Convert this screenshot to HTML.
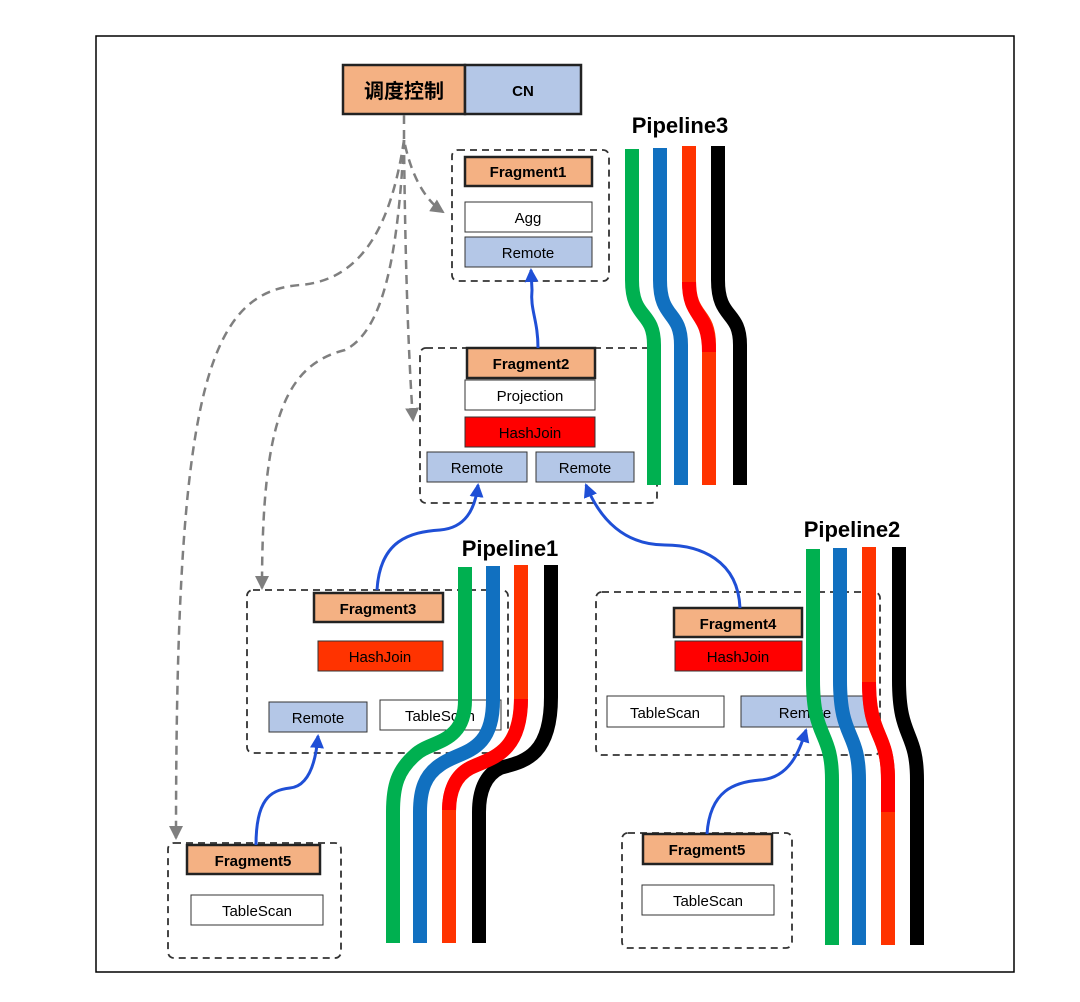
<!DOCTYPE html>
<html><head><meta charset="utf-8"><style>
html,body{margin:0;padding:0;background:#fff;}
svg{display:block;}
text{font-family:"Liberation Sans","Noto Sans CJK SC",sans-serif;}
</style></head><body>
<svg width="1080" height="1002" viewBox="0 0 1080 1002" xmlns="http://www.w3.org/2000/svg">
<defs>
<marker id="ga" markerWidth="14" markerHeight="14" refX="12" refY="7" orient="auto" markerUnits="userSpaceOnUse"><path d="M0,0 L14,7 L0,14 z" fill="#7f7f7f"/></marker>
<marker id="ba" markerWidth="14" markerHeight="14" refX="12" refY="7" orient="auto" markerUnits="userSpaceOnUse"><path d="M0,0 L14,7 L0,14 z" fill="#1f4fd6"/></marker>
</defs>
<rect x="96" y="36" width="918" height="936" fill="none" stroke="#000" stroke-width="1.5"/>

<rect x="343" y="65" width="122" height="49" fill="#F4B183" stroke="#222" stroke-width="2.5"/>
<text x="404" y="98" font-size="20" font-weight="bold" text-anchor="middle">调度控制</text>
<rect x="465" y="65" width="116" height="49" fill="#B4C7E7" stroke="#222" stroke-width="2.5"/>
<text x="523" y="96" font-size="15" font-weight="bold" text-anchor="middle">CN</text>

<g fill="none" stroke="#7f7f7f" stroke-width="2.5" stroke-dasharray="9,6">
<path d="M404,115 L404,140 C410,170 422,198 443,212" marker-end="url(#ga)"/>
<path d="M404,140 C405,250 408,350 413,420" marker-end="url(#ga)"/>
<path d="M404,140 C398,250 385,330 345,350 C285,365 262,420 262,588" marker-end="url(#ga)"/>
<path d="M404,140 C392,220 365,280 300,285 C205,292 176,400 176,838" marker-end="url(#ga)"/>
</g>

<g fill="none" stroke="#333" stroke-width="1.8" stroke-dasharray="7,5">
<rect x="452" y="150" width="157" height="131" rx="6"/>
<rect x="420" y="348" width="237" height="155" rx="6"/>
<rect x="247" y="590" width="261" height="163" rx="6"/>
<rect x="596" y="592" width="284" height="163" rx="6"/>
<rect x="168" y="843" width="173" height="115" rx="6"/>
<rect x="622" y="833" width="170" height="115" rx="6"/>
</g>

<g font-size="15" text-anchor="middle">
<rect x="465" y="157" width="127" height="29" fill="#F4B183" stroke="#222" stroke-width="2.5"/>
<text x="528" y="177" font-weight="bold">Fragment1</text>
<rect x="465" y="202" width="127" height="30" fill="#fff" stroke="#333"/>
<text x="528" y="223">Agg</text>
<rect x="465" y="237" width="127" height="30" fill="#B4C7E7" stroke="#333"/>
<text x="528" y="258">Remote</text>
<rect x="467" y="348" width="128" height="30" fill="#F4B183" stroke="#222" stroke-width="2.5"/>
<text x="531" y="369" font-weight="bold">Fragment2</text>
<rect x="465" y="380" width="130" height="30" fill="#fff" stroke="#333"/>
<text x="530" y="401">Projection</text>
<rect x="465" y="417" width="130" height="30" fill="#FF0000" stroke="#333"/>
<text x="530" y="438">HashJoin</text>
<rect x="427" y="452" width="100" height="30" fill="#B4C7E7" stroke="#333"/>
<text x="477" y="473">Remote</text>
<rect x="536" y="452" width="98" height="30" fill="#B4C7E7" stroke="#333"/>
<text x="585" y="473">Remote</text>
<rect x="314" y="593" width="129" height="29" fill="#F4B183" stroke="#222" stroke-width="2.5"/>
<text x="378" y="614" font-weight="bold">Fragment3</text>
<rect x="318" y="641" width="125" height="30" fill="#FF3300" stroke="#333"/>
<text x="380" y="662">HashJoin</text>
<rect x="269" y="702" width="98" height="30" fill="#B4C7E7" stroke="#333"/>
<text x="318" y="723">Remote</text>
<rect x="380" y="700" width="121" height="30" fill="#fff" stroke="#333"/>
<text x="440" y="721">TableScan</text>
<rect x="674" y="608" width="128" height="29" fill="#F4B183" stroke="#222" stroke-width="2.5"/>
<text x="738" y="629" font-weight="bold">Fragment4</text>
<rect x="675" y="641" width="127" height="30" fill="#FF0000" stroke="#333"/>
<text x="738" y="662">HashJoin</text>
<rect x="607" y="696" width="117" height="31" fill="#fff" stroke="#333"/>
<text x="665" y="718">TableScan</text>
<rect x="741" y="696" width="129" height="31" fill="#B4C7E7" stroke="#333"/>
<text x="805" y="718">Remote</text>
<rect x="187" y="845" width="133" height="29" fill="#F4B183" stroke="#222" stroke-width="2.5"/>
<text x="253" y="866" font-weight="bold">Fragment5</text>
<rect x="191" y="895" width="132" height="30" fill="#fff" stroke="#333"/>
<text x="257" y="916">TableScan</text>
<rect x="643" y="834" width="129" height="30" fill="#F4B183" stroke="#222" stroke-width="2.5"/>
<text x="707" y="855" font-weight="bold">Fragment5</text>
<rect x="642" y="885" width="132" height="30" fill="#fff" stroke="#333"/>
<text x="708" y="906">TableScan</text>
</g>

<g fill="none" stroke="#1f4fd6" stroke-width="3">
<path d="M538,348 C538,320 530,310 532,290 L531,270" marker-end="url(#ba)"/>
<path d="M377,590 C380,540 410,532 440,530 C465,528 475,510 478,485" marker-end="url(#ba)"/>
<path d="M740,608 C738,560 700,545 665,545 C625,545 600,520 586,485" marker-end="url(#ba)"/>
<path d="M256,845 C256,800 270,790 290,788 C310,786 316,760 318,736" marker-end="url(#ba)"/>
<path d="M707,834 C710,790 735,782 760,780 C790,778 800,750 806,730" marker-end="url(#ba)"/>
</g>

<g font-size="22" font-weight="bold" text-anchor="middle">
<text x="680" y="133">Pipeline3</text>
<text x="510" y="556">Pipeline1</text>
<text x="852" y="537">Pipeline2</text>
</g>
<g fill="none" stroke-width="14">
<path d="M632,149 L632,280 C632,320 654,310 654,345 L654,485" stroke="#00B050"/>
<path d="M660,148 L660,280 C660,320 681,310 681,345 L681,485" stroke="#1170C0"/>
<path d="M689,146 L689,280 C689,320 709,310 709,345 L709,485" stroke="#FF3300"/>
<path d="M718,146 L718,280 C718,320 740,310 740,345 L740,485" stroke="#000"/>
<path d="M465,567 L465,700 C465,745 430,740 415,755 C398,770 393,785 393,812 L393,943" stroke="#00B050"/>
<path d="M493,566 L493,700 C493,755 460,750 440,765 C425,775 420,790 420,812 L420,943" stroke="#1170C0"/>
<path d="M521,565 L521,697 C521,755 490,758 470,768 C455,776 449,792 449,812 L449,943" stroke="#FF3300"/>
<path d="M551,565 L551,697 C551,760 520,762 500,768 C485,775 479,792 479,812 L479,943" stroke="#000"/>
<path d="M813,549 L813,680 C813,740 832,730 832,780 L832,945" stroke="#00B050"/>
<path d="M840,548 L840,680 C840,740 859,730 859,780 L859,945" stroke="#1170C0"/>
<path d="M869,547 L869,680 C869,740 888,730 888,780 L888,945" stroke="#FF3300"/>
<path d="M899,547 L899,680 C899,740 917,730 917,780 L917,945" stroke="#000"/>
</g>
<g fill="none" stroke-width="14" stroke="#FF0000">
<path d="M689,282 C689,320 709,310 709,352"/>
<path d="M521,699 C521,755 490,758 470,768 C455,776 449,792 449,810"/>
<path d="M869,682 C869,740 888,730 888,780 L888,812"/>
</g>
</svg>
</body></html>
